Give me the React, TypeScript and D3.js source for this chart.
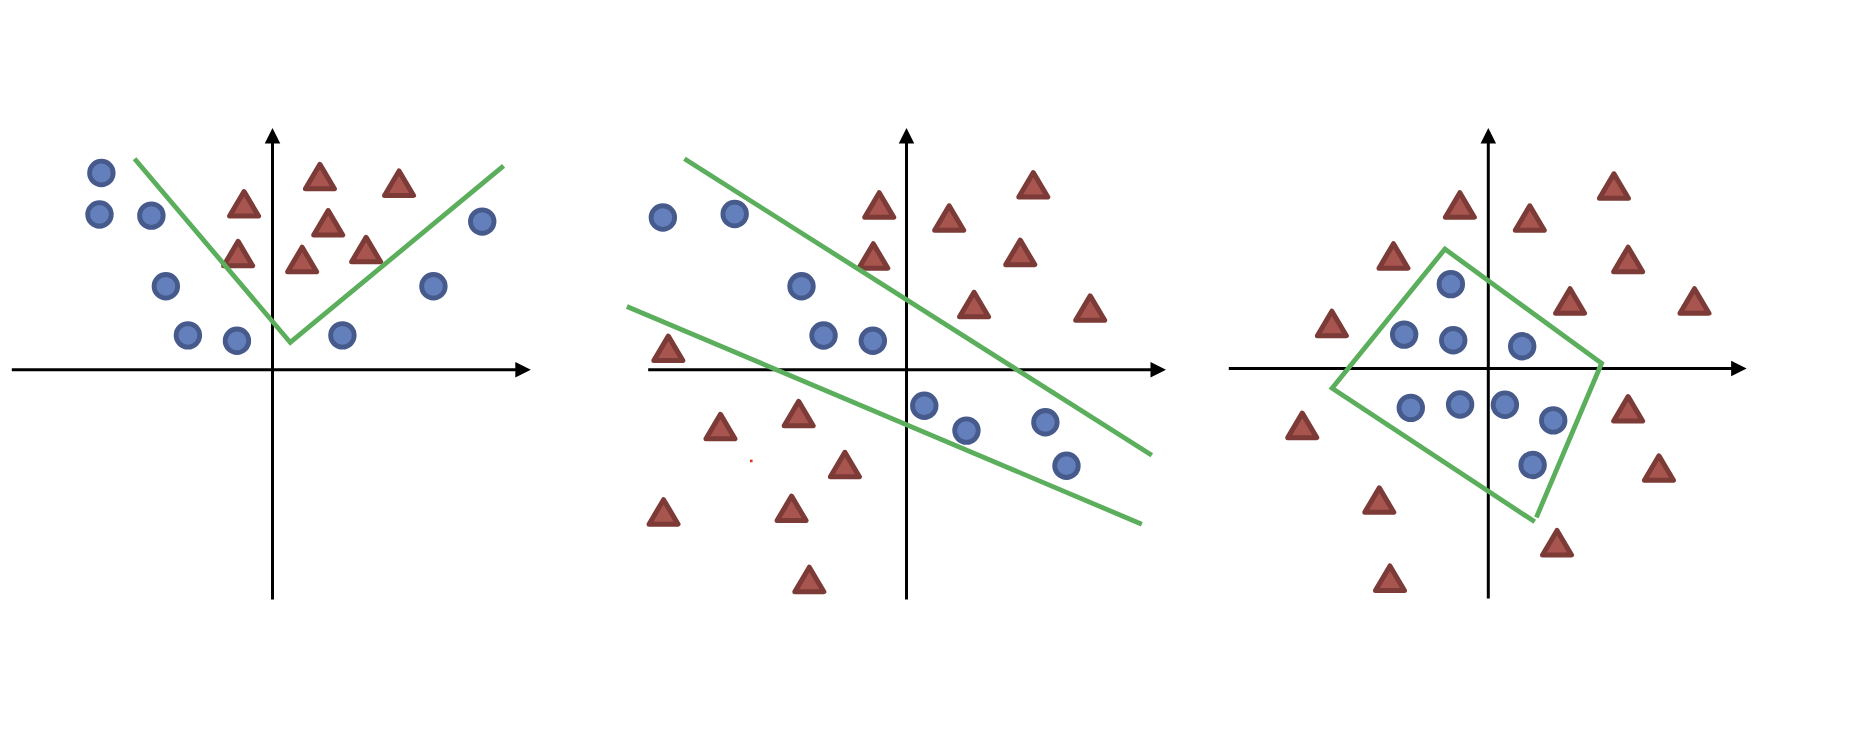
import React from 'react';
import * as d3 from 'd3';

const W = 1858;
const H = 737;

// ---------- data (units relative to each panel's origin) ----------
// Panel 1: V-shaped boundary
const p1Circles: [number, number][] = [
  [-7.22, 8.3], [-7.3, 6.55], [-5.11, 6.5], [-4.5, 3.52], [-3.57, 1.45],
  [-1.5, 1.22], [2.95, 1.45], [6.79, 3.52], [8.85, 6.25],
];
const p1Triangles: [number, number][] = [
  [-1.2, 7.0], [2.0, 8.15], [5.34, 7.87], [2.35, 6.2], [-1.45, 4.9],
  [1.25, 4.65], [3.95, 5.07],
];
const p1Boundary: [number, number][] = [[-5.82, 8.9], [0.75, 1.15], [9.75, 8.6]];
const p1Axes = { x: [-11, 10.9], y: [-9.7, 10.2] };

// Panel 2: two parallel-ish boundaries
const p2Circles: [number, number][] = [
  [-10.28, 6.42], [-7.25, 6.57], [-4.43, 3.52], [-3.5, 1.44], [-1.42, 1.22],
  [0.75, -1.52], [2.53, -2.57], [5.86, -2.22], [6.75, -4.05],
];
const p2Triangles: [number, number][] = [
  [-1.15, 6.95], [1.8, 6.4], [5.35, 7.8], [-1.4, 4.8], [4.8, 4.95],
  [2.85, 2.75], [7.75, 2.6], [-10.05, 0.9], [-7.85, -2.4], [-4.55, -1.85],
  [-2.6, -4.0], [-10.25, -6.0], [-4.85, -5.85], [-4.1, -8.85],
];
const p2BoundaryUpper: [number, number][] = [[-9.37, 8.9], [10.35, -3.61]];
const p2BoundaryLower: [number, number][] = [[-11.8, 2.67], [9.93, -6.52]];
const p2Stray: [number, number][] = [[-6.55, -3.85]];
const p2Axes = { x: [-10.9, 10.95], y: [-9.7, 10.2] };

// Panel 3: closed quadrilateral boundary
const p3Circles: [number, number][] = [
  [-1.58, 3.56], [-3.55, 1.43], [-1.48, 1.19], [1.43, 0.94], [-3.27, -1.66],
  [-1.19, -1.52], [0.7, -1.53], [2.74, -2.19], [1.87, -4.07],
];
const p3Triangles: [number, number][] = [
  [-1.2, 6.9], [1.75, 6.35], [5.3, 7.7], [-4.0, 4.75], [5.9, 4.6],
  [3.45, 2.85], [8.7, 2.85], [-6.6, 1.9], [5.9, -1.7], [7.2, -4.2],
  [-7.85, -2.4], [-4.6, -5.55], [2.9, -7.35], [-4.15, -8.85],
];
const p3Boundary: [number, number][] = [
  [2.03, -6.28], [4.78, 0.22], [-1.83, 5.04], [-6.59, -0.83], [1.96, -6.47],
];
const p3Axes = { x: [-10.95, 10.9], y: [-9.7, 10.15] };

// ---------- layout ----------
const UNIT = 23.7;
const origins: [number, number][] = [[272.5, 369.7], [906.5, 369.7], [1488.3, 368.5]];

const COLORS = {
  circleFill: '#6480BC',
  circleStroke: '#465A8C',
  triFill: '#A8554F',
  triStroke: '#7C3B37',
  green: '#5BAE5B',
  axis: '#000000',
  stray: '#E0301E',
};

type Panel = {
  circles: [number, number][];
  triangles: [number, number][];
  lines: [number, number][][];
  stray: [number, number][];
  axes: { x: number[]; y: number[] };
};

const panels: Panel[] = [
  { circles: p1Circles, triangles: p1Triangles, lines: [p1Boundary], stray: [], axes: p1Axes },
  { circles: p2Circles, triangles: p2Triangles, lines: [p2BoundaryUpper, p2BoundaryLower], stray: p2Stray, axes: p2Axes },
  { circles: p3Circles, triangles: p3Triangles, lines: [p3Boundary], stray: [], axes: p3Axes },
];

function trianglePath(cx: number, cy: number, w: number, h: number) {
  const p = d3.path();
  p.moveTo(cx, cy - h / 2);
  p.lineTo(cx + w / 2, cy + h / 2);
  p.lineTo(cx - w / 2, cy + h / 2);
  p.closePath();
  return p.toString();
}

function PanelView({ panel, origin }: { panel: Panel; origin: [number, number] }) {
  const [ox, oy] = origin;
  const x = d3.scaleLinear().domain([-12, 12]).range([ox - 12 * UNIT, ox + 12 * UNIT]);
  const y = d3.scaleLinear().domain([-12, 12]).range([oy + 12 * UNIT, oy - 12 * UNIT]);
  const line = d3.line<[number, number]>().x((d) => x(d[0])).y((d) => y(d[1]));

  const AL = 15.5; // arrow length
  const AW = 15.5; // arrow width
  const xStart = x(panel.axes.x[0]);
  const xTip = x(panel.axes.x[1]);
  const yBottom = y(panel.axes.y[0]);
  const yTip = y(panel.axes.y[1]);
  const y0 = y(0);
  const x0 = x(0);

  return (
    <g>
      {/* axes */}
      <line x1={xStart} y1={y0} x2={xTip - AL + 1} y2={y0} stroke={COLORS.axis} strokeWidth={3} />
      <path d={`M${xTip},${y0} L${xTip - AL},${y0 - AW / 2} L${xTip - AL},${y0 + AW / 2} Z`} fill={COLORS.axis} />
      <line x1={x0} y1={yBottom} x2={x0} y2={yTip + AL - 1} stroke={COLORS.axis} strokeWidth={3} />
      <path d={`M${x0},${yTip} L${x0 - AW / 2},${yTip + AL} L${x0 + AW / 2},${yTip + AL} Z`} fill={COLORS.axis} />

      {/* points */}
      {panel.circles.map((d, i) => (
        <circle key={`c${i}`} cx={x(d[0])} cy={y(d[1])} r={11.8} fill={COLORS.circleFill}
          stroke={COLORS.circleStroke} strokeWidth={4.8} />
      ))}
      {panel.triangles.map((d, i) => (
        <path key={`t${i}`} d={trianglePath(x(d[0]), y(d[1]), 29, 24.5)} fill={COLORS.triFill}
          stroke={COLORS.triStroke} strokeWidth={5} strokeLinejoin="round" />
      ))}
      {panel.stray.map((d, i) => (
        <rect key={`s${i}`} x={x(d[0]) - 1.3} y={y(d[1]) - 1.3} width={2.6} height={2.6} fill={COLORS.stray} />
      ))}

      {/* boundaries */}
      {panel.lines.map((l, i) => (
        <path key={`l${i}`} d={line(l) || ''} fill="none" stroke={COLORS.green} strokeWidth={4.8}
          strokeLinejoin="miter" />
      ))}
    </g>
  );
}

export default function App() {
  return (
    <svg width={W} height={H} style={{ position: 'absolute', left: 0, top: 0, background: '#fff' }}>
      <rect x={0} y={0} width={W} height={H} fill="#fff" />
      {panels.map((p, i) => (
        <PanelView key={i} panel={p} origin={origins[i]} />
      ))}
    </svg>
  );
}
